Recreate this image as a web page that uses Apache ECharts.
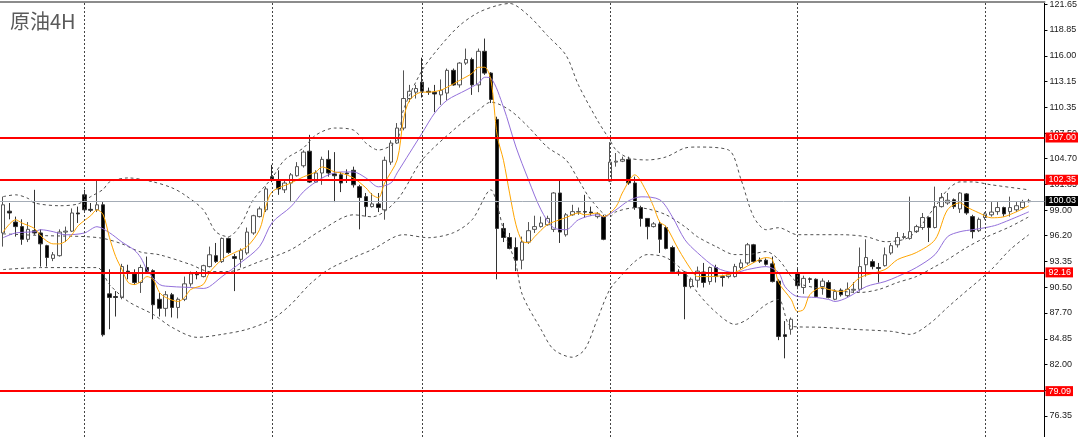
<!DOCTYPE html>
<html><head><meta charset="utf-8">
<script src="https://cdn.jsdelivr.net/npm/echarts@6/dist/echarts.min.js"></script>
<style>html,body{margin:0;padding:0;background:#fff}#c{width:1080px;height:437px}</style>
</head><body><div id="c"></div>
<script>
// ---- data ----
const slotCount = 167; // 165 bars + 2 empty slots on the right
const categories = Array.from({length: slotCount}, (_, i) => String(i));
// [open, close, low, high]
const ohlc = [
[96.5,99.6,95.0,100.5],[98.9,98.7,98.0,99.8],[97.7,97.2,96.1,98.3],[97.2,95.8,95.2,98.0],[95.8,96.9,95.5,97.7],
[96.75,96.5,96.3,101.25],[96.5,95.3,92.8,96.9],[95.1,93.8,92.8,95.2],[93.7,94.1,93.4,94.4],[94.0,96.6,93.9,96.9],
[96.6,96.7,95.5,97.2],[96.7,98.7,96.6,99.2],[98.7,98.6,97.6,99.4],[100.7,99.05,98.8,101.25],[99.1,99.0,98.8,99.8],
[99.05,99.6,98.8,102.3],[99.6,85.3,85.1,99.9],[89.8,89.4,85.9,92.5],[89.5,89.4,87.3,90.1],[89.4,92.8,89.2,93.1],
[92.3,92.2,91.4,93.0],[92.0,91.05,90.8,92.5],[91.05,92.7,89.9,93.0],[92.7,92.25,92.1,93.9],[92.35,88.6,87.0,92.5],
[89.2,88.2,87.3,89.9],[88.2,89.7,87.3,90.1],[89.7,88.3,87.2,89.9],[88.3,89.2,87.1,89.4],[89.2,90.9,89.0,91.7],
[90.9,92.0,90.6,92.25],[92.0,91.9,91.4,92.3],[91.7,92.9,91.6,93.0],[92.8,94.1,92.7,95.0],[94.0,93.35,93.2,95.4],
[93.35,95.9,93.2,96.0],[95.9,94.35,94.2,96.0],[93.9,93.7,90.1,94.2],[93.6,94.6,92.7,94.8],[94.3,96.6,94.1,97.1],
[96.5,98.4,96.3,98.5],[98.3,99.15,98.2,99.4],[99.05,101.35,98.8,101.6],[102.7,102.35,102.1,104.0],[102.35,101.35,100.7,103.4],
[101.25,102.0,100.9,102.35],[102.0,102.9,99.9,103.1],[102.8,103.8,102.7,104.3],[103.9,105.4,103.7,105.6],[105.5,102.1,102.0,107.3],
[102.1,103.1,102.0,103.4],[103.1,104.6,101.8,104.9],[104.6,103.1,102.7,105.6],[103.0,102.8,99.9,105.4],[102.9,102.0,101.0,103.2],
[103.1,103.0,102.0,103.5],[103.4,101.8,101.5,103.8],[101.6,100.4,96.9,101.8],[100.5,99.4,98.3,100.9],[99.4,99.7,99.3,100.9],
[99.7,99.3,98.8,100.9],[99.05,104.5,97.96,104.9],[104.3,106.4,104.0,106.7],[106.4,108.05,106.3,108.6],[108.05,111.3,107.8,114.4],
[111.3,112.1,110.9,112.8],[112.0,112.4,111.3,112.8],[113.1,112.1,111.4,115.8],[112.1,112.0,111.7,112.5],[112.0,111.8,109.8,112.8],
[111.7,112.2,110.6,113.4],[111.9,114.4,111.1,114.6],[114.4,112.8,112.7,114.6],[112.8,115.2,112.5,115.3],[115.2,115.6,115.0,116.8],
[115.6,112.8,111.7,115.8],[112.8,116.5,112.0,116.8],[116.5,114.1,113.9,117.9],[114.1,111.2,110.8,114.2],[109.0,97.0,91.4,109.3],
[97.0,96.0,95.5,97.6],[96.0,94.8,94.7,96.5],[94.9,93.5,92.3,96.0],[93.5,95.5,92.5,96.1],[95.5,96.75,95.3,97.7],
[96.9,97.2,96.5,98.4],[97.2,97.6,97.1,98.3],[97.4,98.1,97.3,98.4],[96.9,100.9,96.6,101.0],[100.9,96.6,95.4,102.35],
[96.3,98.5,96.1,98.7],[98.5,98.85,98.4,99.6],[98.8,98.85,98.5,99.3],[98.85,98.8,98.2,100.7],[98.8,98.7,98.4,99.4],
[98.3,98.6,98.1,98.8],[98.3,95.8,95.7,98.5],[102.2,104.3,102.1,106.5],[104.3,104.4,103.8,105.3],[104.4,104.6,104.3,104.9],
[104.6,102.0,101.8,104.9],[102.0,99.3,99.05,102.7],[99.3,98.1,97.2,99.5],[98.1,97.2,95.8,98.1],[97.2,97.5,97.1,97.7],
[97.5,95.8,94.3,97.7],[97.1,94.8,94.7,97.3],[94.9,92.25,92.1,95.1],[92.2,92.1,91.8,92.5],[92.2,90.6,87.0,92.3],
[90.6,91.4,90.4,91.6],[91.3,92.3,90.5,92.8],[92.2,91.05,90.5,93.2],[91.15,92.7,90.8,92.8],[92.7,91.7,91.05,93.0],
[91.7,91.6,90.6,91.9],[91.7,91.9,91.5,92.1],[91.7,92.8,91.6,93.1],[92.7,93.2,92.5,93.6],[93.2,95.2,93.0,95.4],
[95.2,93.35,93.2,95.3],[93.5,93.4,93.2,93.8],[93.5,93.05,92.9,93.7],[93.1,91.15,91.05,93.9],[91.2,85.1,84.7,91.4],
[85.3,85.1,82.7,86.8],[85.9,87.0,85.3,87.2],[92.1,90.7,90.3,92.55],[90.5,91.5,89.8,91.8],[91.45,91.4,91.0,91.6],
[91.4,89.5,89.4,91.5],[90.6,91.2,89.7,91.5],[91.05,89.4,89.3,91.3],[89.2,90.05,89.1,90.3],[90.2,89.7,89.5,90.4],
[89.6,90.3,89.4,91.05],[90.2,90.3,89.9,91.1],[90.3,92.8,90.05,94.9],[93.0,93.8,91.7,95.8],[93.35,92.8,92.5,93.6],
[92.7,92.6,91.05,93.2],[92.9,94.1,92.8,94.9],[94.3,95.1,94.1,95.4],[95.2,96.0,94.9,96.6],[96.0,96.1,95.8,96.5],
[95.9,96.65,95.76,100.5],[96.65,97.2,96.5,97.4],[97.1,98.2,96.85,98.7],[98.2,97.1,95.5,98.3],[97.1,99.4,97.0,101.6],
[99.4,100.4,99.3,100.9],[99.8,100.1,99.6,100.9],[100.15,99.4,99.15,100.3],[99.15,100.9,98.7,101.0],[100.8,98.7,98.5,100.9],
[98.3,96.65,95.9,98.5],[96.75,98.0,96.6,98.2],[98.2,98.6,97.96,98.8],[98.5,98.8,98.3,99.9],[98.85,99.3,98.5,99.9],
[99.3,98.6,98.3,99.4],[98.85,99.3,98.3,100.5],[99.05,99.5,98.8,99.9],[99.3,99.9,99.15,100.15],[99.95,100.03,99.85,100.25]
];
// indicator lines: [bar index, value]
const maFast = [[0,96.6],[2,97.96],[3,97.6],[5,97.0],[6,96.2],[7,95.6],[8,95.3],[9,95.3],[10,95.6],[11,96.3],[12,97.3],[14,98.4],[15,99.05],[16,98.5],[17,96.0],[18,93.9],[19,92.47],[20,91.05],[21,90.82],[22,91.15],[23,91.7],[24,91.37],[25,89.95],[26,89.4],[28,88.96],[29,89.4],[30,90.28],[32,90.83],[33,92.14],[35,93.57],[37,94.34],[39,95.0],[41,96.86],[42,99.38],[43,101.03],[46,102.0],[48,102.67],[50,103.22],[51,103.77],[53,103.22],[54,103.11],[56,102.56],[58,101.47],[59,100.7],[60,100.37],[61,102.0],[63,104.54],[64,108.93],[65,111.12],[67,112.0],[68,112.0],[70,112.22],[71,112.55],[73,113.3],[75,114.08],[76,114.74],[77,114.74],[78,113.3],[79,107.2],[80,104.5],[81,100.8],[82,97.4],[83,95.6],[84,95.43],[85,96.1],[87,97.4],[89,97.96],[90,98.2],[92,98.7],[93,98.5],[95,98.7],[96,98.3],[98,99.4],[99,100.9],[101,102.9],[103,100.9],[104,99.4],[105,97.7],[106,97.2],[108,94.67],[110,92.47],[111,91.7],[113,91.7],[116,91.92],[118,92.47],[120,93.24],[122,93.79],[123,93.57],[124,91.05],[126,89.18],[127,87.86],[128,88.08],[129,89.73],[131,90.5],[132,90.28],[134,90.06],[135,90.28],[137,91.6],[141,92.47],[143,93.57],[146,94.34],[149,95.76],[151,99.05],[153,99.82],[154,99.38],[156,98.72],[158,98.17],[160,98.28],[162,98.83],[164,99.49]];
const maSlow = [[0,95.98],[2,96.5],[5,96.64],[6,96.86],[8,96.64],[10,96.3],[13,96.5],[15,97.19],[17,96.53],[19,95.5],[21,94.6],[22,93.79],[23,92.47],[25,90.83],[27,90.6],[30,90.5],[32,90.39],[33,90.6],[35,91.7],[38,93.24],[41,95.0],[43,97.63],[46,99.38],[48,101.03],[50,102.12],[52,102.89],[54,103.22],[56,103.22],[58,102.56],[60,101.58],[62,102.0],[63,103.11],[65,105.31],[67,107.5],[69,109.7],[71,111.12],[74,112.22],[76,112.99],[77,113.64],[78,113.53],[80,110.35],[82,105.96],[84,102.34],[86,99.05],[88,97.08],[90,96.86],[92,97.96],[95,98.5],[96,98.28],[98,99.05],[100,100.04],[102,100.48],[105,100.15],[107,98.28],[109,95.76],[111,94.34],[114,92.69],[117,92.14],[119,92.47],[122,92.8],[124,92.14],[125,90.6],[127,89.51],[130,89.4],[132,89.18],[133,88.96],[135,89.4],[138,90.6],[141,91.15],[143,91.7],[146,92.69],[149,94.12],[151,96.09],[153,96.64],[155,96.86],[157,97.08],[159,97.41],[164,98.83]];
const bbUpper = [[0,100.5],[2,100.7],[4,100.3],[5,99.8],[9,99.5],[12,99.7],[14,100.5],[16,101.3],[17,102.1],[20,102.56],[24,102.12],[27,101.47],[29,100.7],[32,99.05],[34,96.64],[36,96.09],[38,97.41],[40,100.15],[43,102.56],[45,104.54],[48,105.85],[50,107.28],[53,108.05],[56,107.83],[58,106.4],[60,105.63],[63,106.73],[64,110.02],[67,114.41],[70,117.15],[73,119.35],[76,120.77],[79,121.54],[81,121.76],[84,120.44],[87,118.25],[90,116.06],[92,112.77],[95,108.93],[97,106.73],[98,105.63],[100,104.76],[103,104.54],[106,104.87],[109,105.85],[111,105.96],[116,105.63],[118,102.34],[120,98.28],[122,96.86],[124,97.08],[127,96.31],[134,96.31],[138,96.09],[141,95.54],[145,96.09],[149,99.38],[151,101.25],[153,102.12],[155,102.12],[158,101.8],[164,101.25]];
const bbMid = [[0,96.4],[7,96.2],[13,96.1],[16,95.9],[19,95.3],[22,94.4],[25,94.1],[30,93.02],[33,92.25],[36,92.25],[41,93.35],[46,94.66],[51,96.86],[56,98.5],[59,98.28],[63,100.15],[67,104.54],[72,107.83],[76,110.02],[78,110.9],[81,110.02],[84,108.16],[87,105.96],[90,104.54],[92,102.34],[94,100.15],[97,98.28],[98,98.83],[101,99.27],[103,99.16],[106,98.5],[109,97.19],[111,96.09],[114,95.0],[117,94.12],[119,94.12],[122,94.45],[124,93.57],[127,91.05],[132,90.28],[137,89.95],[140,90.28],[143,91.05],[146,91.7],[149,92.8],[151,93.57],[154,94.88],[157,95.98],[161,97.19],[164,98.28]];
const bbLower = [[0,92.47],[6,92.69],[15,92.69],[17,90.83],[20,88.96],[24,87.53],[27,86.11],[31,85.01],[35,85.34],[39,85.89],[43,86.99],[46,88.63],[49,90.83],[52,92.47],[56,93.79],[59,94.66],[64,96.31],[68,95.98],[72,96.53],[75,97.96],[78,101.25],[79,99.6],[80,96.86],[82,93.02],[83,89.73],[86,85.89],[88,83.69],[91,82.82],[93,83.69],[95,86.99],[97,90.28],[99,91.92],[101,93.35],[103,94.12],[106,93.79],[109,92.14],[111,89.95],[114,87.75],[117,86.44],[119,86.99],[122,88.63],[124,89.18],[126,86.22],[131,86.11],[136,85.89],[142,85.67],[145,85.34],[148,86.44],[151,88.3],[153,89.51],[158,92.47],[161,94.66],[164,96.31]];
const levels = [107.00, 102.35, 92.16, 79.09];
const lastPrice = 100.03;
const separators = [13, 43, 67, 97, 127, 157];
const yTicks = [76.35, 79.20, 82.00, 84.85, 87.70, 90.50, 93.35, 96.20, 99.00, 101.85, 104.70, 107.50, 110.35, 113.15, 116.00, 118.85, 121.65];
const titleText = '原油4H';

// ---- chart ----
const chart = echarts.init(document.getElementById('c'), null, {renderer: 'canvas'});
const bandLine = {color: '#505050', width: 1, type: [3, 3]};
const lineSeries = (name, data, color, style) => ({
  name, type: 'line', data, showSymbol: false, smooth: 0.3, silent: true, z: 4,
  lineStyle: Object.assign({color, width: 1}, style || {})
});
chart.setOption({
  animation: false,
  backgroundColor: '#fff',
  title: {text: titleText, left: 10, top: 11, padding: 0,
    textStyle: {fontSize: 20, fontWeight: 'normal', color: '#5a5a5a', fontFamily: 'Noto Sans CJK SC'}},
  grid: {left: -1.6, right: 33, top: 1, bottom: 0},
  xAxis: {type: 'category', data: categories, position: 'top', boundaryGap: true,
    axisLine: {show: true, lineStyle: {color: '#8c8c8c', width: 2}},
    axisTick: {show: false}, axisLabel: {show: false}, splitLine: {show: false}},
  yAxis: {type: 'value', position: 'right', min: 74.04, max: 121.98, scale: true,
    axisLine: {show: true, lineStyle: {color: '#000', width: 1}},
    axisTick: {show: true, length: 3, lineStyle: {color: '#000'}, customValues: yTicks},
    axisLabel: {customValues: yTicks, margin: 5, fontSize: 9, color: '#1a1a1a',
      fontFamily: 'Liberation Sans', formatter: v => v.toFixed(2)},
    splitLine: {show: false}},
  series: [
    {type: 'line', data: [], silent: true, z: 1,
      markLine: {symbol: 'none', silent: true, animation: false,
        label: {show: false},
        lineStyle: {color: '#444', width: 1, type: [2, 2]},
        data: separators.map(i => ({xAxis: i}))}},
    {type: 'candlestick', data: ohlc, barWidth: 4, z: 2,
      itemStyle: {color: '#ffffff', color0: '#000000', borderColor: '#555', borderColor0: '#333', borderWidth: 1}},
    lineSeries('bbUpper', bbUpper, '#505050', bandLine),
    lineSeries('bbMid', bbMid, '#505050', bandLine),
    lineSeries('bbLower', bbLower, '#505050', bandLine),
    lineSeries('maSlow', maSlow, '#9370db'),
    lineSeries('maFast', maFast, '#ffa500'),
    {type: 'line', data: [], silent: true, z: 6,
      markLine: {symbol: 'none', silent: true, animation: false,
        data: [
          {yAxis: lastPrice, lineStyle: {color: '#a4acb6', width: 1, type: 'solid'},
           label: {show: true, position: 'end', distance: 1, formatter: lastPrice.toFixed(2),
             backgroundColor: '#000', color: '#fff', fontSize: 9, fontFamily: 'Liberation Sans', padding: [1, 2, 0, 3]}}
        ].concat(levels.map(v => ({yAxis: v,
          lineStyle: {color: '#ff0000', width: 2, type: 'solid'},
          label: {show: true, position: 'end', distance: 1, formatter: v.toFixed(2),
            backgroundColor: '#ff0000', color: '#fff', fontSize: 9, fontFamily: 'Liberation Sans', padding: [1, 2, 0, 3]}})))}}
  ]
});
</script></body></html>
